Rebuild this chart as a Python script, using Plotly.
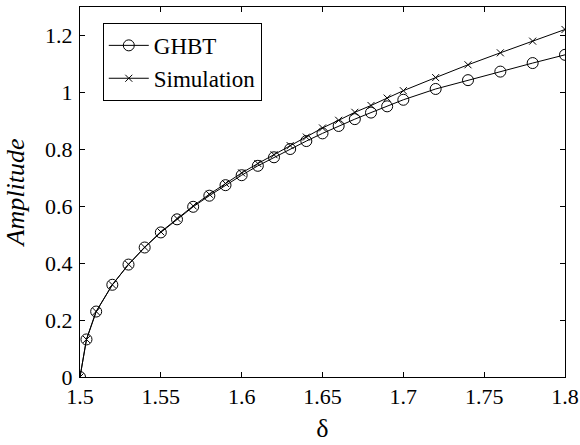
import plotly.graph_objects as go

delta = [1.5, 1.504, 1.51, 1.52, 1.53, 1.54, 1.55, 1.56, 1.57, 1.58, 1.59, 1.60,
         1.61, 1.62, 1.63, 1.64, 1.65, 1.66, 1.67, 1.68, 1.69, 1.70,
         1.72, 1.74, 1.76, 1.78, 1.80]
ghbt = [0.0, 0.132, 0.230, 0.324, 0.395, 0.455, 0.508, 0.554, 0.598, 0.637, 0.674, 0.709,
        0.742, 0.772, 0.801, 0.829, 0.856, 0.882, 0.906, 0.929, 0.951, 0.974,
        1.012, 1.043, 1.073, 1.103, 1.132]
simulation = [0.0, 0.132, 0.230, 0.324, 0.396, 0.456, 0.510, 0.557, 0.601, 0.642, 0.680, 0.717,
              0.750, 0.781, 0.813, 0.843, 0.875, 0.902, 0.930, 0.954, 0.980, 1.006,
              1.052, 1.097, 1.139, 1.180, 1.221]

x_ticks = [1.5, 1.55, 1.6, 1.65, 1.7, 1.75, 1.8]
x_ticktext = ["1.5", "1.55", "1.6", "1.65", "1.7", "1.75", "1.8"]
y_ticks = [0, 0.2, 0.4, 0.6, 0.8, 1.0, 1.2]
y_ticktext = ["0", "0.2", "0.4", "0.6", "0.8", "1", "1.2"]

FONT = "Liberation Serif"

fig = go.Figure()
fig.add_trace(go.Scatter(
    x=delta, y=ghbt, name="GHBT", mode="lines+markers",
    line=dict(color="black", width=1),
    marker=dict(symbol="circle-open", size=11, color="black", line=dict(width=1)),
))
fig.add_trace(go.Scatter(
    x=delta, y=simulation, name="Simulation", mode="lines+markers",
    line=dict(color="black", width=1),
    marker=dict(symbol="x-thin-open", size=7, color="black", line=dict(width=1)),
))

axis_common = dict(
    showgrid=False, zeroline=False, showline=True, linecolor="black", linewidth=1,
    mirror="ticks", ticks="inside", ticklen=5, tickcolor="black", tickwidth=1,
    tickfont=dict(family=FONT, size=22, color="black"), automargin=False,
)
fig.update_xaxes(range=[1.5, 1.8], tickvals=x_ticks, ticktext=x_ticktext,
                 title=dict(text="δ", font=dict(family=FONT, size=26, color="black"), standoff=10),
                 **axis_common)
fig.update_yaxes(range=[0, 1.3], tickvals=y_ticks, ticktext=y_ticktext,
                 ticklabelstandoff=2,
                 title=dict(text="<i>Amplitude</i>", font=dict(family=FONT, size=26, color="black"), standoff=12),
                 **axis_common)

fig.update_layout(
    width=580, height=445,
    margin=dict(l=80, r=15, t=7, b=68),
    paper_bgcolor="white", plot_bgcolor="white",
    showlegend=True,
    legend=dict(x=0.047, y=0.957, xanchor="left", yanchor="top",
                bgcolor="white", bordercolor="black", borderwidth=1,
                font=dict(family=FONT, size=23, color="black"),
                tracegroupgap=0, itemwidth=40),
    font=dict(family=FONT, color="black"),
)

fig.write_html("out.html", config={"displayModeBar": False},
               post_script="document.body.style.margin='0';")
